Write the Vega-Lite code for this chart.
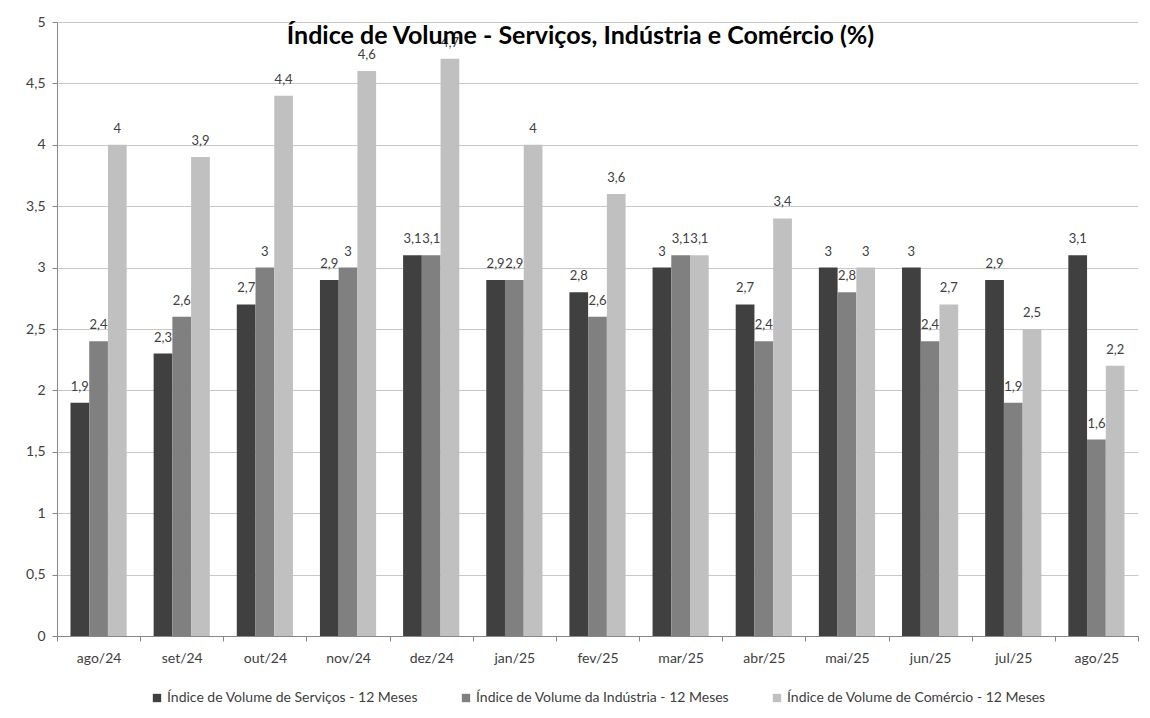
{
  "$schema": "https://vega.github.io/schema/vega-lite/v6.json",
  "width": 1081,
  "height": 614,
  "autosize": {"type": "none"},
  "padding": {"left": 57, "top": 22, "right": 12, "bottom": 82},
  "background": "white",
  "title": {
    "text": "Índice de Volume - Serviços, Indústria e Comércio (%)",
    "fontSize": 25,
    "fontWeight": "bold",
    "font": "Lato",
    "color": "#000000",
    "offset": -34,
    "dx": -17,
    "anchor": "middle"
  },
  "config": {
    "locale": {"number": {"decimal": ",", "thousands": ".", "grouping": [3], "currency": ["R$ ", ""]}},
    "view": {"stroke": null},
    "font": "Lato",
    "legend": {"layout": {"bottom": {"anchor": "middle"}}}
  },
  "data": {
    "values": [
      {"mes": "ago/24", "serie": "Índice de Volume de Serviços - 12 Meses", "valor": 1.9},
      {"mes": "set/24", "serie": "Índice de Volume de Serviços - 12 Meses", "valor": 2.3},
      {"mes": "out/24", "serie": "Índice de Volume de Serviços - 12 Meses", "valor": 2.7},
      {"mes": "nov/24", "serie": "Índice de Volume de Serviços - 12 Meses", "valor": 2.9},
      {"mes": "dez/24", "serie": "Índice de Volume de Serviços - 12 Meses", "valor": 3.1},
      {"mes": "jan/25", "serie": "Índice de Volume de Serviços - 12 Meses", "valor": 2.9},
      {"mes": "fev/25", "serie": "Índice de Volume de Serviços - 12 Meses", "valor": 2.8},
      {"mes": "mar/25", "serie": "Índice de Volume de Serviços - 12 Meses", "valor": 3.0},
      {"mes": "abr/25", "serie": "Índice de Volume de Serviços - 12 Meses", "valor": 2.7},
      {"mes": "mai/25", "serie": "Índice de Volume de Serviços - 12 Meses", "valor": 3.0},
      {"mes": "jun/25", "serie": "Índice de Volume de Serviços - 12 Meses", "valor": 3.0},
      {"mes": "jul/25", "serie": "Índice de Volume de Serviços - 12 Meses", "valor": 2.9},
      {"mes": "ago/25", "serie": "Índice de Volume de Serviços - 12 Meses", "valor": 3.1},
      {"mes": "ago/24", "serie": "Índice de Volume da Indústria - 12 Meses", "valor": 2.4},
      {"mes": "set/24", "serie": "Índice de Volume da Indústria - 12 Meses", "valor": 2.6},
      {"mes": "out/24", "serie": "Índice de Volume da Indústria - 12 Meses", "valor": 3.0},
      {"mes": "nov/24", "serie": "Índice de Volume da Indústria - 12 Meses", "valor": 3.0},
      {"mes": "dez/24", "serie": "Índice de Volume da Indústria - 12 Meses", "valor": 3.1},
      {"mes": "jan/25", "serie": "Índice de Volume da Indústria - 12 Meses", "valor": 2.9},
      {"mes": "fev/25", "serie": "Índice de Volume da Indústria - 12 Meses", "valor": 2.6},
      {"mes": "mar/25", "serie": "Índice de Volume da Indústria - 12 Meses", "valor": 3.1},
      {"mes": "abr/25", "serie": "Índice de Volume da Indústria - 12 Meses", "valor": 2.4},
      {"mes": "mai/25", "serie": "Índice de Volume da Indústria - 12 Meses", "valor": 2.8},
      {"mes": "jun/25", "serie": "Índice de Volume da Indústria - 12 Meses", "valor": 2.4},
      {"mes": "jul/25", "serie": "Índice de Volume da Indústria - 12 Meses", "valor": 1.9},
      {"mes": "ago/25", "serie": "Índice de Volume da Indústria - 12 Meses", "valor": 1.6},
      {"mes": "ago/24", "serie": "Índice de Volume de Comércio - 12 Meses", "valor": 4.0},
      {"mes": "set/24", "serie": "Índice de Volume de Comércio - 12 Meses", "valor": 3.9},
      {"mes": "out/24", "serie": "Índice de Volume de Comércio - 12 Meses", "valor": 4.4},
      {"mes": "nov/24", "serie": "Índice de Volume de Comércio - 12 Meses", "valor": 4.6},
      {"mes": "dez/24", "serie": "Índice de Volume de Comércio - 12 Meses", "valor": 4.7},
      {"mes": "jan/25", "serie": "Índice de Volume de Comércio - 12 Meses", "valor": 4.0},
      {"mes": "fev/25", "serie": "Índice de Volume de Comércio - 12 Meses", "valor": 3.6},
      {"mes": "mar/25", "serie": "Índice de Volume de Comércio - 12 Meses", "valor": 3.1},
      {"mes": "abr/25", "serie": "Índice de Volume de Comércio - 12 Meses", "valor": 3.4},
      {"mes": "mai/25", "serie": "Índice de Volume de Comércio - 12 Meses", "valor": 3.0},
      {"mes": "jun/25", "serie": "Índice de Volume de Comércio - 12 Meses", "valor": 2.7},
      {"mes": "jul/25", "serie": "Índice de Volume de Comércio - 12 Meses", "valor": 2.5},
      {"mes": "ago/25", "serie": "Índice de Volume de Comércio - 12 Meses", "valor": 2.2}
    ]
  },
  "encoding": {
    "x": {
      "field": "mes",
      "type": "nominal",
      "sort": null,
      "scale": {"paddingInner": 0, "paddingOuter": 0},
      "axis": {
        "title": null,
        "labelAngle": 0,
        "labelFontSize": 14,
        "labelColor": "#404040",
        "labelPadding": 10,
        "tickBand": "extent",
        "tickSize": 5,
        "tickColor": "#868686",
        "domainColor": "#868686",
        "grid": false
      }
    },
    "xOffset": {
      "field": "serie",
      "type": "nominal",
      "sort": ["Índice de Volume de Serviços - 12 Meses", "Índice de Volume da Indústria - 12 Meses", "Índice de Volume de Comércio - 12 Meses"],
      "scale": {"paddingInner": 0, "paddingOuter": 0.72}
    },
    "y": {
      "field": "valor",
      "type": "quantitative",
      "scale": {"domain": [0, 5], "nice": false},
      "axis": {
        "title": null,
        "values": [0, 0.5, 1, 1.5, 2, 2.5, 3, 3.5, 4, 4.5, 5],
        "format": ".1~f",
        "labelFontSize": 14,
        "labelColor": "#404040",
        "labelPadding": 7,
        "tickSize": 5,
        "tickColor": "#868686",
        "domainColor": "#868686",
        "gridColor": "#c8c8c8",
        "grid": true
      }
    }
  },
  "layer": [
    {
      "mark": {"type": "bar"},
      "encoding": {
        "color": {
          "field": "serie",
          "type": "nominal",
          "scale": {
            "domain": ["Índice de Volume de Serviços - 12 Meses", "Índice de Volume da Indústria - 12 Meses", "Índice de Volume de Comércio - 12 Meses"],
            "range": ["#404040", "#808080", "#c0c0c0"]
          },
          "legend": {
            "title": null,
            "orient": "bottom",
            "direction": "horizontal",
            "symbolType": "square",
            "symbolSize": 70,
            "symbolStrokeWidth": 0,
            "labelFontSize": 14,
            "labelLimit": 400,
            "labelColor": "#404040",
            "columnPadding": 40,
            "labelOffset": 3,
            "offset": 26
          }
        }
      }
    },
    {
      "mark": {"type": "text", "dy": -9, "fontSize": 13, "color": "#404040", "baseline": "bottom"},
      "encoding": {
        "text": {"field": "valor", "type": "quantitative", "format": ".1~f"}
      }
    }
  ]
}
